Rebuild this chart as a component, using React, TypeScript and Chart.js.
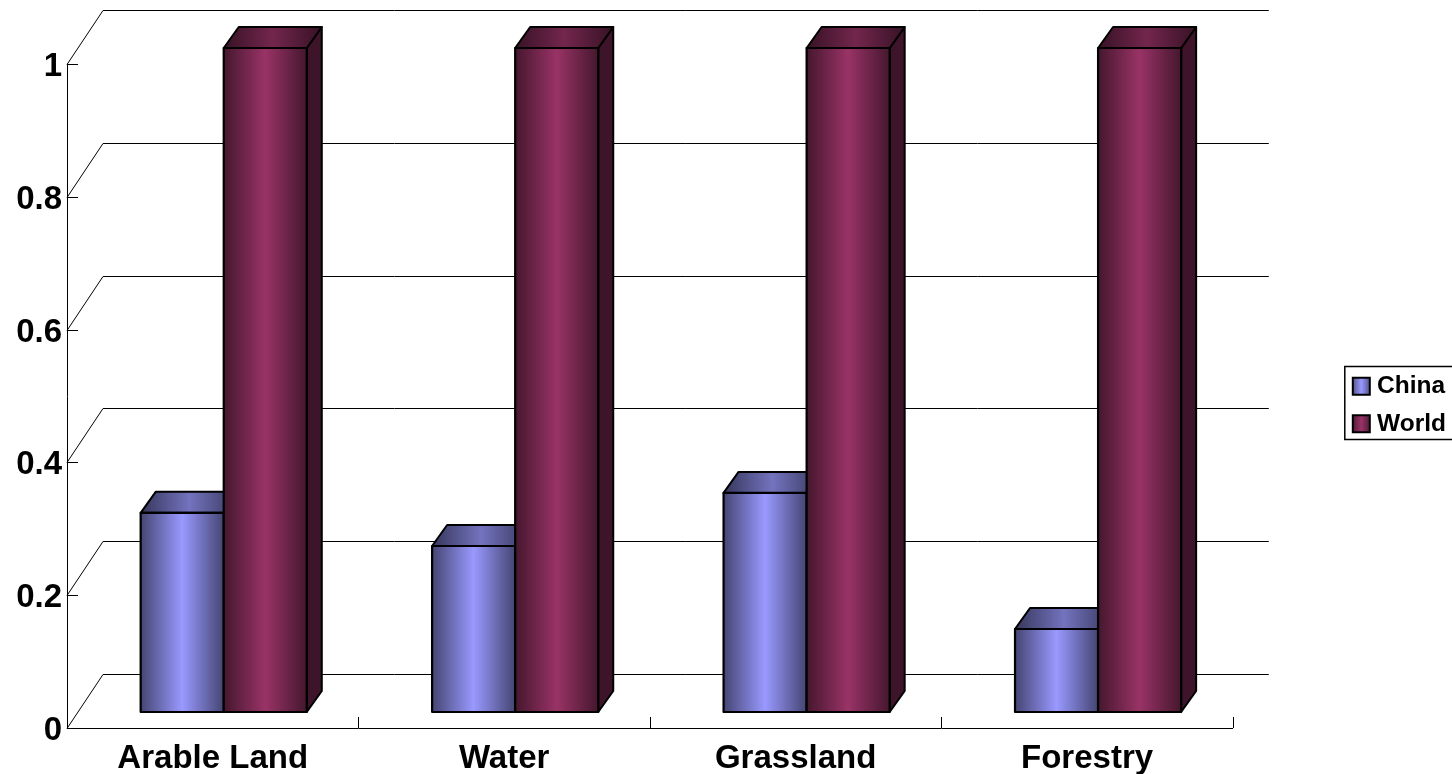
import React, { useEffect, useRef } from "react";
import { Chart, registerables } from "chart.js";

Chart.register(...registerables);

const categories = ["Arable Land", "Water", "Grassland", "Forestry"];
const china = [0.3, 0.25, 0.33, 0.125];
const world = [1, 1, 1, 1];
const yTicks = [0, 0.2, 0.4, 0.6, 0.8, 1];
const seriesColors = [[153, 153, 255], [153, 51, 102]];

const FONT = '"Liberation Sans", Arial, sans-serif';
const WALL = { dx: 36, dy: -54 };
const BAR_SHIFT = { dx: 11, dy: -16 };
const BAR_DEPTH = { dx: 15, dy: -21 };
const TICK = 11;

const shade = (c: number[], k: number) =>
  `rgb(${Math.round(c[0] * k)},${Math.round(c[1] * k)},${Math.round(c[2] * k)})`;

function hGrad(ctx: CanvasRenderingContext2D, x0: number, x1: number, c: number[], edge: number, mid: number) {
  const g = ctx.createLinearGradient(x0, 0, x1, 0);
  g.addColorStop(0, shade(c, edge));
  g.addColorStop(0.5, shade(c, mid));
  g.addColorStop(1, shade(c, edge));
  return g;
}

function poly(ctx: CanvasRenderingContext2D, pts: number[][], fill: any) {
  ctx.beginPath();
  pts.forEach((p, i) => (i ? ctx.lineTo(p[0], p[1]) : ctx.moveTo(p[0], p[1])));
  ctx.closePath();
  ctx.fillStyle = fill;
  ctx.fill();
  ctx.lineWidth = 2;
  ctx.strokeStyle = "#000";
  ctx.lineJoin = "round";
  ctx.stroke();
}

const scene3d = {
  id: "scene3d",
  beforeDatasetsDraw(chart: any) {
    const { ctx, scales } = chart;
    const xs = scales.x;
    const ys = scales.y;
    ctx.save();
    ctx.strokeStyle = "#000";
    ctx.lineWidth = 1;
    ctx.beginPath();
    yTicks.forEach((v) => {
      const y = Math.round(ys.getPixelForValue(v)) + 0.5;
      ctx.moveTo(xs.left, y);
      ctx.lineTo(xs.left + WALL.dx, y + WALL.dy);
      ctx.lineTo(xs.right + WALL.dx, y + WALL.dy);
      if (v > 0) {
        ctx.moveTo(xs.left, y);
        ctx.lineTo(xs.left + TICK, y);
      }
    });
    const step = (xs.right - xs.left) / categories.length;
    for (let i = 1; i <= categories.length; i++) {
      const x = Math.round(xs.left + step * i) + 0.5;
      ctx.moveTo(x, ys.bottom);
      ctx.lineTo(x, ys.bottom - TICK);
    }
    ctx.stroke();

    ctx.translate(BAR_SHIFT.dx, BAR_SHIFT.dy);
    chart.data.datasets.forEach((_: any, di: number) => {
      const c = seriesColors[di];
      chart.getDatasetMeta(di).data.forEach((el: any) => {
        const p = el.getProps(["x", "y", "base", "width"], true);
        const l = p.x - p.width / 2;
        const r = p.x + p.width / 2;
        const d = BAR_DEPTH;
        poly(ctx, [[r, p.y], [r + d.dx, p.y + d.dy], [r + d.dx, p.base + d.dy], [r, p.base]], shade(c, 0.4));
        poly(ctx, [[l, p.y], [l + d.dx, p.y + d.dy], [r + d.dx, p.y + d.dy], [r, p.y]],
          hGrad(ctx, l, r + d.dx, c, 0.36, 0.75));
        el.options = { ...el.options, backgroundColor: hGrad(ctx, l, r, c, 0.45, 1) };
        el.draw(ctx);
        ctx.lineWidth = 2.2;
        ctx.strokeStyle = "#000";
        ctx.strokeRect(l, p.y, r - l, p.base - p.y);
      });
    });
    ctx.restore();
    return false;
  },
  afterDraw(chart: any) {
    const { ctx, legend } = chart;
    const boxes = legend.legendHitBoxes;
    ctx.save();
    const first = boxes[0];
    const last = boxes[boxes.length - 1];
    const top = first.top - 7.5;
    const bottom = last.top + last.height + 3.5;
    ctx.strokeStyle = "#000";
    ctx.lineWidth = 1.5;
    ctx.strokeRect(first.left - 8, top, chart.width + 10 - first.left, bottom - top);
    boxes.forEach((b: any, i: number) => {
      const size = 17;
      const y = b.top + (b.height - size) / 2;
      ctx.fillStyle = hGrad(ctx, b.left, b.left + size, seriesColors[i], 0.55, 1);
      ctx.fillRect(b.left, y, size, size);
      ctx.lineWidth = 2;
      ctx.strokeRect(b.left, y, size, size);
    });
    ctx.restore();
  },
};

export default function App() {
  const ref = useRef<HTMLCanvasElement>(null);
  useEffect(() => {
    document.body.style.margin = "0";
    const font = { family: FONT, size: 33, weight: "bold" as const };
    const chart = new Chart(ref.current!, {
      type: "bar",
      data: {
        labels: categories,
        datasets: [
          { label: "China", data: china, backgroundColor: shade(seriesColors[0], 1) },
          { label: "World", data: world, backgroundColor: shade(seriesColors[1], 1) },
        ],
      },
      options: {
        responsive: false,
        animation: false,
        devicePixelRatio: 1,
        layout: { autoPadding: false, padding: { top: 36, bottom: 0, left: 0, right: -4 } },
        datasets: {
          bar: {
            categoryPercentage: 0.57,
            barPercentage: 1,
            borderWidth: 0,
          },
        },
        scales: {
          x: {
            grid: { display: false, drawTicks: false },
            border: { color: "#000", width: 1 },
            ticks: { color: "#000", font, padding: 11, autoSkip: false, maxRotation: 0 },
            afterFit: (s: any) => { s.height = 46; },
          },
          y: {
            min: 0,
            max: 1,
            grid: { display: false, drawTicks: false },
            border: { color: "#000", width: 1 },
            afterBuildTicks: (s: any) => { s.ticks = yTicks.map((value) => ({ value })); },
            ticks: { color: "#000", font, padding: 5, labelOffset: 3, callback: (v: any) => String(v) },
            afterFit: (s: any) => { s.width = 67; },
          },
          spacerRight: {
            type: "linear",
            axis: "y",
            position: "right",
            grid: { display: false, drawTicks: false },
            border: { display: false },
            ticks: { display: false },
            afterFit: (s: any) => { s.width = 107; },
          },
          spacerTop: {
            type: "linear",
            axis: "x",
            position: "top",
            grid: { display: false, drawTicks: false },
            border: { display: false },
            ticks: { display: false },
            afterFit: (s: any) => { s.height = 28; },
          },
        } as any,
        plugins: {
          tooltip: { enabled: false },
          legend: {
            position: "right",
            labels: {
              boxWidth: 12,
              padding: 13,
              color: "#000",
              font: { family: FONT, size: 24.5, weight: "bold" },
              generateLabels: (c: any) =>
                c.data.datasets.map((d: any, i: number) => ({
                  text: d.label,
                  fillStyle: "transparent",
                  strokeStyle: "transparent",
                  lineWidth: 0,
                  fontColor: "#000",
                  hidden: false,
                  datasetIndex: i,
                })),
            },
          },
        },
      },
      plugins: [scene3d],
    } as any);
    return () => chart.destroy();
  }, []);
  return <canvas ref={ref} width={1452} height={774} style={{ display: "block" }} />;
}
